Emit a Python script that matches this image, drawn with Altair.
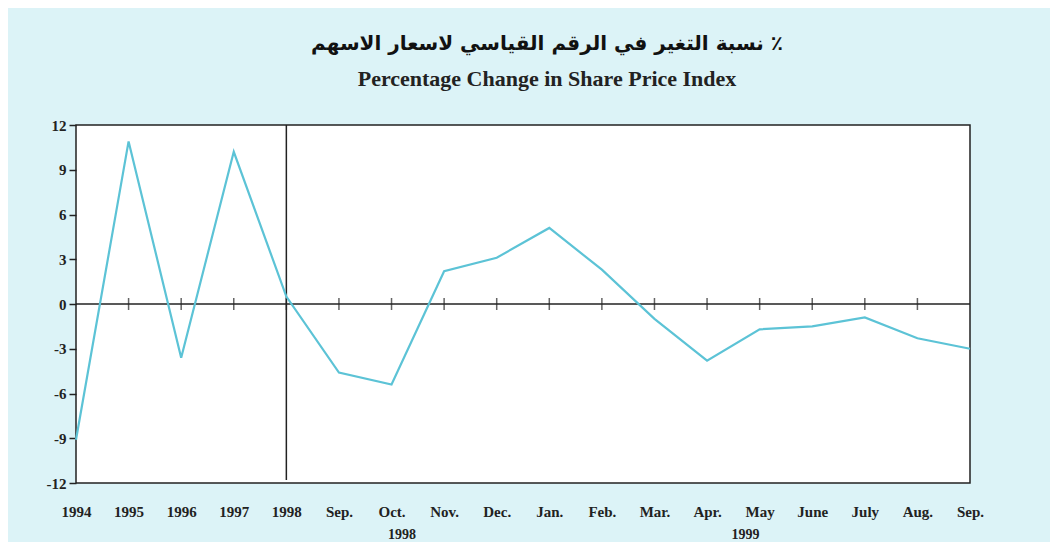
import altair as alt
import pandas as pd

labels = ["1994", "1995", "1996", "1997", "1998", "Sep.", "Oct.", "Nov.", "Dec.",
          "Jan.", "Feb.", "Mar.", "Apr.", "May", "June", "July", "Aug.", "Sep."]
values = [-9.1, 10.9, -3.6, 10.2, 0.5, -4.6, -5.4, 2.2, 3.1,
          5.1, 2.3, -1.0, -3.8, -1.7, -1.5, -0.9, -2.3, -3.0]
year_groups = ["1998", "1999"]
year_group_pos = [6.2, 12.73]
divider_pos = [4]
tick_pos = list(range(1, 17))
y_ticks = [-12, -9, -6, -3, 0, 3, 6, 9, 12]

df = pd.DataFrame({"i": list(range(len(labels))), "label": labels, "v": values})
ticks_df = pd.DataFrame({"i": tick_pos, "v": [0] * len(tick_pos)})
years_df = pd.DataFrame({"i": year_group_pos, "t": year_groups})
div_df = pd.DataFrame({"i": divider_pos})

label_js = "[" + ",".join("'" + l + "'" for l in labels) + "]"

xscale = alt.Scale(domain=[0, 17], nice=False, zero=False)
yscale = alt.Scale(domain=[-12, 12], nice=False)

xaxis = alt.Axis(values=list(range(18)), labelExpr=label_js + "[datum.value]",
                 ticks=False, domain=False, grid=False, labelPadding=21,
                 labelFlush=False, labelOverlap=False,
                 labelFont="Liberation Serif", labelFontWeight="bold",
                 labelFontSize=15, labelColor="#222", title=None)
yaxis = alt.Axis(values=y_ticks, labelExpr="'' + datum.value", ticks=True, tickSize=7,
                 tickColor="#222", tickWidth=1.5, domain=False, grid=False,
                 labelFlush=False, labelOverlap=False,
                 labelPadding=3, labelFont="Liberation Serif", labelFontWeight="bold",
                 labelFontSize=15, labelColor="#222", title=None)

base = alt.Chart(df)

line = base.mark_line(color="#5cc3d6", strokeWidth=2.2).encode(
    x=alt.X("i:Q", scale=xscale, axis=xaxis),
    y=alt.Y("v:Q", scale=yscale, axis=yaxis),
)

zero = alt.Chart(ticks_df).mark_rule(color="#222", strokeWidth=1.5).encode(
    y=alt.Y("v:Q", scale=yscale, aggregate="min"),
)

tks = alt.Chart(ticks_df).mark_tick(orient="vertical", size=12, thickness=1.5, color="#222").encode(
    x=alt.X("i:Q", scale=xscale),
    y=alt.Y("v:Q", scale=yscale),
)

div = alt.Chart(div_df).mark_rule(color="#222", strokeWidth=1.5).encode(
    x=alt.X("i:Q", scale=xscale),
    y=alt.value(0),
    y2=alt.value(355),
)

yrs = alt.Chart(years_df).mark_text(font="Liberation Serif", fontWeight="bold",
                                    fontSize=14, color="#222", clip=False).encode(
    x=alt.X("i:Q", scale=xscale),
    y=alt.value(410),
    text="t:N",
)

chart = alt.layer(zero, div, tks, line, yrs).properties(
    width=894, height=358,
    autosize=alt.AutoSizeParams(type="none"),
    padding={"left": 68, "top": 117, "right": 80, "bottom": 59},
    background="#dcf3f7",
    title=alt.TitleParams(
        text="نسبة التغير في الرقم القياسي لاسعار الاسهم ٪",
        subtitle="Percentage Change in Share Price Index",
        font="DejaVu Sans", fontWeight="bold", fontSize=20, color="#111",
        subtitleFont="Liberation Serif", subtitleFontWeight="bold",
        subtitleFontSize=22, subtitleColor="#222",
        subtitlePadding=15, offset=28, anchor="middle", dx=24,
    ),
).configure_view(fill="white", stroke="#222", strokeWidth=1.5)

chart.save("out.html", embed_options={"renderer": "svg", "actions": False})
